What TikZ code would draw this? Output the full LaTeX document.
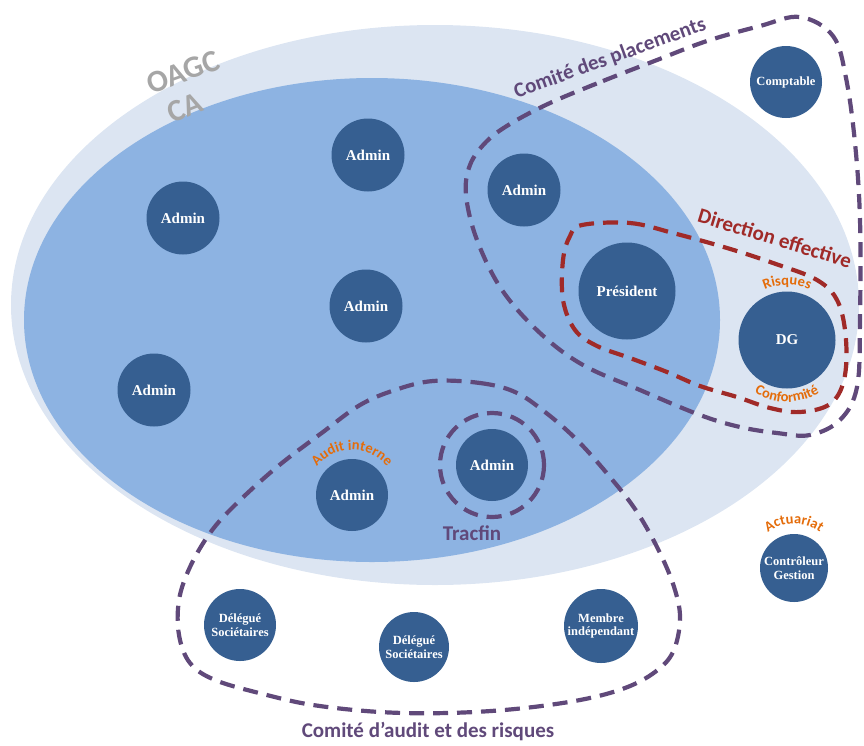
\documentclass[tikz,border=0pt]{standalone}
\usepackage{fontspec}
\setmainfont{Liberation Serif}
\newfontfamily\lblfont{Carlito}
\usetikzlibrary{decorations.text}

\definecolor{oagcblue}{RGB}{220,229,242}
\definecolor{cablue}{RGB}{141,179,226}
\definecolor{seatblue}{RGB}{54,95,145}
\definecolor{cttpurple}{RGB}{96,73,122}
\definecolor{dirred}{RGB}{160,42,40}
\definecolor{roleorange}{RGB}{228,108,10}
\definecolor{bodygray}{RGB}{166,166,166}

\tikzset{
  seat/.style={circle, fill=seatblue, text=white, inner sep=0pt, minimum size=#1,
    font=\bfseries\fontsize{15}{16}\selectfont},
  smallseat/.style={seat=#1, align=center, font=\bfseries\fontsize{12.5}{13.5}\selectfont},
  boundary/.style={line width=4.2pt, dash pattern=on 15pt off 9pt},
  lbl/.style={font=\lblfont\bfseries\fontsize{#1}{#1}\selectfont, inner sep=0pt},
  arclabel/.style={decorate, decoration={text along path, text align=center,
    text color=roleorange, text={|\lblfont\bfseries\fontsize{14.5}{14.5}\selectfont|#1}}},
}

\begin{document}
\begin{tikzpicture}[x=1pt, y=-1pt]
\useasboundingbox (0,0) rectangle (864,745);

% bodies: OAGC and CA
\fill[oagcblue] (435,305) ellipse[x radius=424, y radius=280];
\fill[cablue] (372,320) ellipse[x radius=348, y radius=242];

\node[lbl=31, text=bodygray, rotate=20] (oagc) at (183,72) {OAGC};
\node[lbl=31, text=bodygray, rotate=22] (ca) at (185,108) {CA};

% committee boundaries
\draw[boundary, cttpurple] plot[smooth cycle, tension=0.6] coordinates {
  (550,103) (603,81) (657,60) (707,41) (760,26) (800,17) (833,36) (846,78)
  (855,143) (860,220) (860,320) (857,387) (840,420) (810,435) (777,433)
  (740,427) (700,415) (640,390) (583,365) (540,333) (502,290) (477,240)
  (466,195) (470,165) (486,142) (510,124)};

\draw[boundary, dirred] plot[smooth cycle, tension=0.6] coordinates {
  (582,225) (630,223) (673,233) (727,248) (773,263) (817,280) (838,302)
  (846,340) (844,380) (830,404) (800,412) (770,408) (737,397) (700,386)
  (667,372) (630,358) (597,346) (575,330) (563,300) (563,260) (570,236)};

\draw[boundary, cttpurple] plot[smooth cycle, tension=0.6] coordinates {
  (433,381) (480,383) (515,392) (545,412) (577,440) (610,477) (637,512)
  (660,553) (675,590) (680,620) (673,652) (655,672) (625,688) (580,700)
  (515,709) (447,713) (380,712) (313,705) (263,694) (215,680) (190,663)
  (179,635) (179,600) (190,567) (210,533) (235,505) (277,467) (323,432)
  (360,405) (395,390)};

% members
\node[seat=73pt] (adm1) at (368,155) {Admin};
\node[seat=73pt] (adm2) at (183,218) {Admin};
\node[seat=73pt] (adm3) at (366,306) {Admin};
\node[seat=73pt] (adm4) at (154,390) {Admin};
\node[seat=73pt] (adm5) at (524,190) {Admin};
\node[seat=97pt] (pres) at (627,291) {Président};
\node[seat=97pt] (dg) at (787,340) {DG};
\node[smallseat=72pt] (compta) at (786,82) {Comptable};
\node[seat=72pt] (audit) at (352,495) {Admin};
\node[seat=72pt] (tracfin) at (492,465) {Admin};
\node[smallseat=68pt] (ctrl) at (794,568) {Contrôleur\\Gestion};
\node[smallseat=72pt] (del1) at (240,625) {Délégué\\Sociétaires};
\node[smallseat=70pt] (del2) at (414,647) {Délégué\\Sociétaires};
\node[smallseat=74pt] (indep) at (601,626) {Membre\\indépendant};

\draw[boundary, cttpurple] (tracfin.center) circle[radius=52];

% committee names
\node[lbl=21, text=cttpurple, rotate=20, anchor=base] (placlbl) at (612,64) {Comité des placements};
\node[lbl=21, text=dirred, rotate=-17] (dirlbl) at (775,238) {Direction effective};
\node[lbl=21, text=cttpurple] (traclbl) at (472,533) {Tracfin};
\node[lbl=21, text=cttpurple] (auditlbl) at (428,731) {Comité d’audit et des risques};

% functions held by members
\path[arclabel=Risques] (dg.center) ++(240:55) arc[start angle=240, end angle=300, radius=55];
\path[arclabel=Conformité] (dg.center) ++(150:62) arc[start angle=150, end angle=30, radius=62];
\path[arclabel=Audit interne] (audit.center) ++(210:45) arc[start angle=210, end angle=330, radius=45];
\path[arclabel=Actuariat] (ctrl.center) ++(220:44) arc[start angle=220, end angle=320, radius=44];
\end{tikzpicture}
\end{document}
